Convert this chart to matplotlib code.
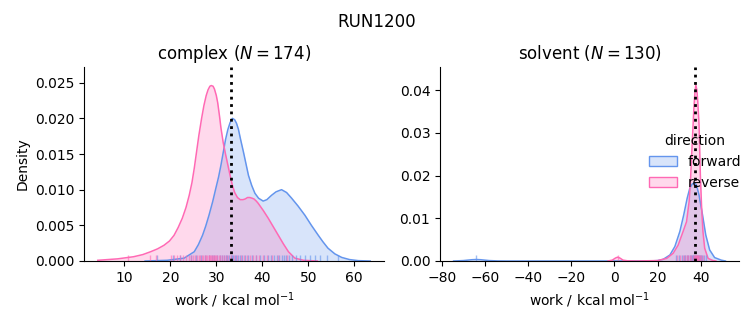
import matplotlib
matplotlib.use("Agg")
import matplotlib.pyplot as plt
import matplotlib.transforms as mtransforms
from matplotlib.patches import Patch

# density curves (work in kcal/mol, density)
complex_fwd_x = [14.5, 19.3, 23.0, 25.2, 26.1, 27.0, 27.7, 28.4, 29.2, 29.9, 30.5, 31.0, 31.5,
                 32.0, 32.5, 33.0, 33.5, 34.0, 34.4, 34.8, 35.3, 35.9, 36.5, 37.0, 37.7, 38.4,
                 39.2, 40.2, 41.0, 42.0, 43.0, 44.2, 45.3, 46.4, 47.8, 49.3, 50.7, 52.2, 53.2,
                 54.3, 55.8, 57.3, 59.0, 60.9, 63.5]
complex_fwd_y = [0.0, 0.0001, 0.0004, 0.0013, 0.0023, 0.0036, 0.0049, 0.0064, 0.0083, 0.0102,
                 0.0118, 0.0134, 0.0152, 0.0170, 0.0184, 0.0194, 0.0200, 0.0198, 0.0193, 0.0185,
                 0.0170, 0.0153, 0.0135, 0.0120, 0.0106, 0.0095, 0.0088, 0.0084, 0.0086, 0.0092,
                 0.0097, 0.0100, 0.0096, 0.0088, 0.0077, 0.0064, 0.0050, 0.0036, 0.0027, 0.0018,
                 0.0010, 0.0005, 0.0002, 0.00005, 0.0]
complex_rev_x = [4.2, 8.5, 12.0, 14.0, 15.7, 17.2, 18.6, 19.8, 20.8, 21.7, 22.6, 23.4, 24.1,
                 24.7, 25.2, 25.7, 26.2, 26.8, 27.3, 27.8, 28.2, 28.6, 28.9, 29.3, 29.6, 30.0,
                 30.3, 30.7, 31.0, 31.5, 32.0, 32.5, 33.0, 33.5, 34.0, 34.6, 35.2, 35.8, 36.3,
                 36.8, 37.3, 37.8, 38.2, 38.7, 39.1, 40.2, 41.3, 42.4, 43.5, 44.6, 45.7, 47.1,
                 49.0, 52.0]
complex_rev_y = [0.0001, 0.0003, 0.0006, 0.0009, 0.0013, 0.0017, 0.0022, 0.0028, 0.0036, 0.0047,
                 0.0060, 0.0075, 0.0092, 0.0110, 0.0130, 0.0153, 0.0176, 0.0200, 0.0218, 0.0232,
                 0.0240, 0.0245, 0.0246, 0.0245, 0.0241, 0.0232, 0.0222, 0.0203, 0.0187, 0.0166,
                 0.0150, 0.0135, 0.0120, 0.0106, 0.0096, 0.0089, 0.0086, 0.0086, 0.0087, 0.0089,
                 0.0089, 0.0088, 0.0087, 0.0084, 0.0081, 0.0071, 0.0060, 0.0048, 0.0036, 0.0024,
                 0.0013, 0.0004, 0.0001, 0.0]

solvent_fwd_x = [-74.5, -70.0, -66.0, -64.0, -62.0, -58.0, -54.0, -50.0, 16.0, 20.0, 22.6, 25.7,
                 28.0, 30.3, 32.1, 33.7, 34.9, 36.0, 37.0, 38.0, 39.2, 40.8, 42.3, 44.1, 46.4,
                 49.5, 51.4]
solvent_fwd_y = [0.0, 0.0001, 0.0003, 0.00035, 0.0003, 0.0001, 0.00002, 0.0, 0.0, 0.0001, 0.0004,
                 0.0014, 0.0034, 0.0069, 0.0108, 0.0147, 0.0170, 0.0180, 0.0183, 0.0178, 0.0154,
                 0.0108, 0.0061, 0.0026, 0.0008, 0.0002, 0.0]
solvent_rev_x = [-3.0, -1.0, 0.5, 1.5, 2.5, 4.0, 6.0, 10.0, 20.0, 24.2, 27.2, 29.5, 31.8, 33.4,
                 34.6, 35.2, 35.7, 36.3, 36.8, 37.3, 37.7, 38.2, 38.6, 39.2, 39.8, 40.4, 41.0,
                 41.8, 43.4, 45.7, 47.0]
solvent_rev_y = [0.0, 0.0002, 0.0007, 0.0009, 0.0007, 0.0002, 0.00005, 0.0, 0.0001, 0.0006,
                 0.0018, 0.0037, 0.0069, 0.0092, 0.0139, 0.0185, 0.0240, 0.0305, 0.0357, 0.0395,
                 0.0412, 0.0400, 0.0373, 0.0318, 0.0201, 0.0123, 0.0069, 0.0030, 0.0006, 0.0001,
                 0.0]

# rug positions (individual work values, estimated)
complex_fwd_rug = [17.1, 20.6, 22.1, 24.4, 25.6, 26.6, 27.5, 28.3, 29.0, 29.6, 30.2, 30.7, 31.2,
                   31.6, 32.0, 32.4, 32.8, 33.1, 33.4, 33.7, 34.0, 34.3, 34.7, 35.1, 35.6, 36.2,
                   36.9, 37.7, 38.6, 39.5, 40.4, 41.2, 41.9, 42.6, 43.2, 43.7, 44.2, 44.7, 45.2,
                   45.8, 46.5, 47.3, 48.2, 49.2, 50.3, 51.5, 52.6, 54.0, 56.5]
complex_rev_rug = [10.7, 15.6, 16.9, 20.1, 20.8, 21.5, 22.2, 22.8, 23.4, 24.0, 24.5, 25.0, 25.4,
                   25.8, 26.2, 26.5, 26.9, 27.2, 27.5, 27.8, 28.0, 28.3, 28.5, 28.7, 28.9, 29.1,
                   29.3, 29.5, 29.7, 29.9, 30.2, 30.5, 30.8, 31.2, 31.6, 32.1, 32.6, 33.2, 33.9,
                   34.6, 35.3, 36.0, 36.7, 37.3, 37.9, 38.6, 39.3, 40.1, 41.0, 42.1, 43.4, 45.3]
solvent_fwd_rug = [-64.0, 28.5, 30.0, 31.2, 32.1, 32.9, 33.6, 34.2, 34.8, 35.3, 35.8, 36.2, 36.6,
                   37.0, 37.4, 37.8, 38.2, 38.6, 39.0, 39.5, 40.0, 40.6, 41.3, 42.2]
solvent_rev_rug = [1.5, 29.0, 30.5, 31.6, 32.6, 33.5, 34.3, 35.0, 35.6, 36.2, 36.7, 37.1, 37.4,
                   37.7, 37.9, 38.1, 38.3, 38.5, 38.8, 39.1, 39.5, 40.0, 40.8]

# free energy estimates (dotted lines)
complex_dg = 33.2
solvent_dg = 37.2

FWD = "cornflowerblue"
REV = "hotpink"


def draw_panel(ax, fwd_x, fwd_y, rev_x, rev_y, fwd_rug, rev_rug, dg):
    for x, y, c in [(fwd_x, fwd_y, FWD), (rev_x, rev_y, REV)]:
        ax.fill_between(x, y, 0, color=c, alpha=0.25, linewidth=0)
        ax.plot(x, y, color=c, linewidth=1.1)
    trans = mtransforms.blended_transform_factory(ax.transData, ax.transAxes)
    for rug, c in [(fwd_rug, FWD), (rev_rug, REV)]:
        ax.vlines(rug, 0, 0.03, transform=trans, color=c, alpha=0.6, linewidth=1.0)
    ax.axvline(dg, color="black", linestyle=":", linewidth=2)
    ax.spines["top"].set_visible(False)
    ax.spines["right"].set_visible(False)
    ax.set_xlabel("work / kcal mol$^{-1}$")


fig = plt.figure(figsize=(7.53, 3.25), dpi=100)
ax1 = fig.add_axes([84 / 753, 64 / 325, 300 / 753, 194 / 325])
ax2 = fig.add_axes([440 / 753, 64 / 325, 299 / 753, 194 / 325])

draw_panel(ax1, complex_fwd_x, complex_fwd_y, complex_rev_x, complex_rev_y,
           complex_fwd_rug, complex_rev_rug, complex_dg)
ax1.set_xlim(1.2, 66.5)
ax1.set_ylim(0, 0.0272)
ax1.set_xticks([10, 20, 30, 40, 50, 60])
ax1.set_yticks([0, 0.005, 0.01, 0.015, 0.02, 0.025])
ax1.set_yticklabels([f"{v:.3f}" for v in [0, 0.005, 0.01, 0.015, 0.02, 0.025]])
ax1.set_ylabel("Density")
ax1.set_title(f"complex ($N = {174}$)")

draw_panel(ax2, solvent_fwd_x, solvent_fwd_y, solvent_rev_x, solvent_rev_y,
           solvent_fwd_rug, solvent_rev_rug, solvent_dg)
ax2.set_xlim(-80.8, 57.7)
ax2.set_ylim(0, 0.0454)
ax2.set_xticks([-80, -60, -40, -20, 0, 20, 40])
ax2.set_yticks([0, 0.01, 0.02, 0.03, 0.04])
ax2.set_yticklabels([f"{v:.2f}" for v in [0, 0.01, 0.02, 0.03, 0.04]])
ax2.set_title(f"solvent ($N = {130}$)")

handles = [Patch(facecolor=matplotlib.colors.to_rgba(FWD, 0.25), edgecolor=FWD, label="forward"),
           Patch(facecolor=matplotlib.colors.to_rgba(REV, 0.25), edgecolor=REV, label="reverse")]
ax2.legend(handles=handles, title="direction", frameon=False, loc="center left",
           bbox_to_anchor=(0.657, 0.51))

fig.suptitle("RUN1200", y=0.96)
fig.savefig("out.png", dpi=100)
